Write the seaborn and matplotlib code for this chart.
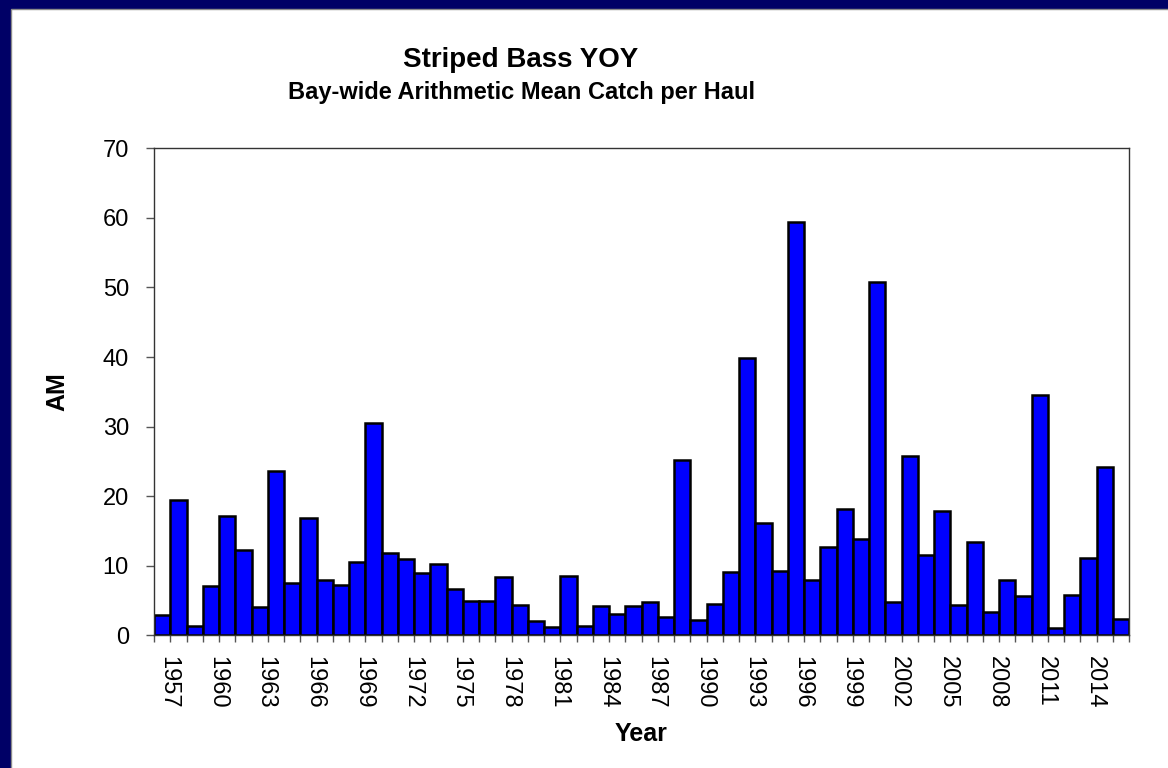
import matplotlib
matplotlib.use("Agg")
import matplotlib.pyplot as plt
import matplotlib.transforms as mtransforms
from matplotlib.patches import Rectangle
import numpy as np
import pandas as pd
import seaborn as sns

# Data
years = list(range(1957, 2017))
am = [2.9, 19.4, 1.3, 7.1, 17.1, 12.2, 4.0, 23.6, 7.5, 16.8,
      7.9, 7.2, 10.5, 30.5, 11.8, 11.0, 9.0, 10.2, 6.7, 5.0,
      4.9, 8.4, 4.3, 2.1, 1.2, 8.5, 1.4, 4.2, 3.0, 4.2,
      4.8, 2.6, 25.2, 2.2, 4.5, 9.1, 39.8, 16.1, 9.3, 59.4,
      8.0, 12.7, 18.2, 13.8, 50.8, 4.8, 25.8, 11.5, 17.9, 4.3,
      13.4, 3.3, 8.0, 5.6, 34.6, 1.0, 5.8, 11.1, 24.2, 2.3]
year_labels = [str(y) for y in years[::3]]

title = "Striped Bass YOY"
subtitle = "Bay-wide Arithmetic Mean Catch per Haul"

df = pd.DataFrame({"Year": years, "AM": am})

sns.set_style("white")
plt.rcParams["font.family"] = ["Liberation Sans", "DejaVu Sans"]
plt.rcParams["text.color"] = "black"
plt.rcParams["axes.labelcolor"] = "black"
plt.rcParams["xtick.color"] = "black"
plt.rcParams["ytick.color"] = "black"

W, H = 1168, 768
fig = plt.figure(figsize=(W / 100, H / 100), dpi=100)
fig.patch.set_facecolor("#000066")
# white chart area inside the navy border (navy only on left and top)
fig.add_artist(Rectangle((11 / W, -1), 2, 2 - 9 / H, transform=fig.transFigure,
                         facecolor="white", edgecolor="#8a8a8a", lw=1, zorder=0))

ax = fig.add_axes([154 / W, 1 - 635.3 / H, 975 / W, 487 / H])
sns.barplot(data=df, x="Year", y="AM", color="#0000FF", saturation=1,
            edgecolor="black", linewidth=1.8, width=1, errorbar=None, ax=ax)

ax.set_xlim(-0.5, len(years) - 0.5)
ax.set_ylim(0, 70)
ax.set_yticks(range(0, 80, 10))
ax.set_xticks(range(0, len(years), 3))
ax.set_xticklabels(year_labels, rotation=270)
ax.set_xticks(np.arange(-0.5, len(years), 1), minor=True)

ax.tick_params(axis="x", which="major", bottom=True, length=0, pad=15, labelsize=17)
ax.tick_params(axis="x", which="minor", bottom=True, length=5, width=1,
               color="#555555", direction="out")
ax.tick_params(axis="y", left=True, length=6, width=1, color="#555555",
               direction="out", pad=12, labelsize=17)

# shift year labels a little to the right, like the original
offset = mtransforms.ScaledTranslation(6 / 100, 0, fig.dpi_scale_trans)
for lab in ax.get_xticklabels():
    lab.set_transform(lab.get_transform() + offset)

for s in ax.spines.values():
    s.set_visible(True)
    s.set_color("#333333")
    s.set_linewidth(1)

ax.set_ylabel("AM", fontsize=18, fontweight="bold", va="center")
ax.yaxis.set_label_coords((57 - 154) / 975, 0.5)
ax.set_xlabel("Year", fontsize=18, fontweight="bold", va="center")
ax.xaxis.set_label_coords(0.5, (635.3 - 734) / 487)

fig.text(521 / W, 1 - 60 / H, title, ha="center", va="center",
         fontsize=20, fontweight="bold")
fig.text(521 / W, 1 - 92 / H, subtitle, ha="center", va="center",
         fontsize=17, fontweight="bold")

fig.savefig("out.png", dpi=100, facecolor=fig.get_facecolor())
